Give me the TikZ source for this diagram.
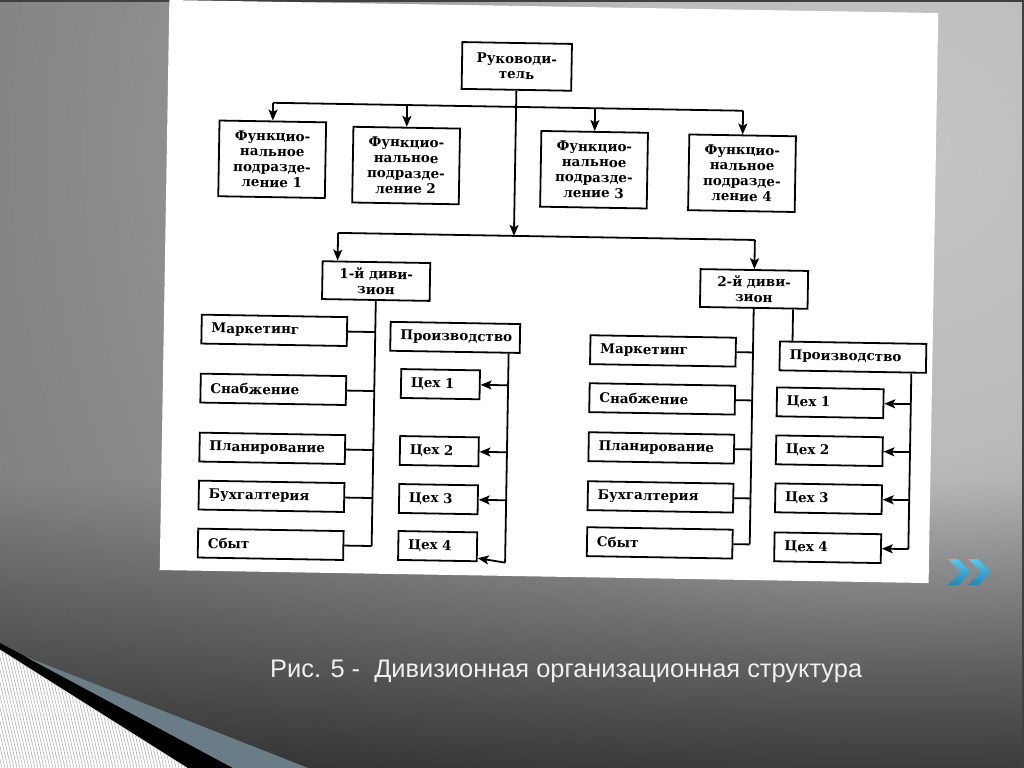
\documentclass[tikz,border=0pt]{standalone}
\usepackage{fontspec}
\setmainfont{DejaVu Serif}
\newfontfamily\capfont{Liberation Sans}
\usetikzlibrary{positioning,arrows.meta,fadings}
\definecolor{glowA}{HTML}{C4C4C4}
\definecolor{glowB}{HTML}{BBBBBB}
\definecolor{glowC}{HTML}{9C9C9C}
\definecolor{glowD}{HTML}{888888}
\definecolor{glowE}{HTML}{787878}
\definecolor{glowF}{HTML}{555555}
\definecolor{glowG}{HTML}{454545}
\definecolor{slate}{HTML}{6A7D86}
\definecolor{chevtop}{HTML}{5CC6EA}
\definecolor{chevbot}{HTML}{1E86B4}
\pgfdeclareradialshading{slideglow}{\pgfpoint{0bp}{0bp}}{%
  color(0bp)=(glowA); color(7.5bp)=(glowB); color(13.5bp)=(glowC);
  color(21bp)=(glowD); color(29bp)=(glowE); color(42.5bp)=(glowF);
  color(50bp)=(glowG)}
\tikzfading[name=lowdark, top color=transparent!100, bottom color=transparent!40]
\tikzset{
  cardbox/.style={draw, line width=1.8, fill=white,
    font=\bfseries\fontsize{13.5}{15.5}\selectfont},
  chief/.style={cardbox, align=center, minimum width=110, minimum height=47, inner sep=2},
  fpbox/.style={cardbox, align=center, minimum width=107, minimum height=76, inner sep=2},
  divbox/.style={cardbox, align=center, minimum width=108, minimum height=38, inner sep=2},
  unitbox/.style={cardbox, align=left, text width=#1, inner xsep=10, inner ysep=2,
    minimum height=29},
  wire/.style={line width=1.8},
  feed/.style={line width=1.8, -{Stealth[length=11, width=9, inset=2.5]}},
}

\begin{document}
\begin{tikzpicture}[x=1bp,y=-1bp]
  \useasboundingbox (0,0) rectangle (1024,768);
  \begin{scope}
    \clip (0,0) rectangle (1024,768);
    \shade[shading=slideglow] (-100,-850) rectangle (1900,1150);
    \fill[black, path fading=lowdark] (0,480) rectangle (1024,768);
  \end{scope}
  \draw[black!75, line width=2] (0,1) -- (1024,1) (1023,0) -- (1023,768);

  % bottom left ribbon
  \fill[black] (0,643) -- (235,768) -- (0,768) -- cycle;
  \fill[slate] (25,656.4) -- (308,768) -- (233,768) -- cycle;
  \begin{scope}
    \clip (0,650) -- (187,768) -- (0,768) -- cycle;
    \fill[white] (0,640) rectangle (200,768);
    \foreach \k in {-40,-37,...,200}
      \draw[gray!70, line width=0.5] (\k,640) -- (\k+30,768);
  \end{scope}
  \draw[white!70!gray, line width=0.8] (0,650) -- (187,768);

  % next-slide chevrons
  \foreach \x in {948,968}
    \shade[top color=chevtop, bottom color=chevbot]
      (\x,559) -- (\x+10,559) -- (\x+22,572) -- (\x+10,585) -- (\x,585) -- (\x+12,572) -- cycle;

  \node[anchor=base west, inner sep=0, text=white!94!black,
    font=\capfont\fontsize{25.5}{30}\selectfont] (cap) at (270,677)
    {Рис. 5 -~ Дивизионная организационная структура};

  \begin{scope}[transform canvas={rotate around={-0.97:(550,290)}}]
    \fill[white] (164.5,6.5) rectangle (933.5,576.6);

    \node[chief] (ruk) at (513,67) {Руководи-\\тель};
    \node[fpbox] (fp1) at (270,164) {Функцио-\\нальное\\подразде-\\ление 1};
    \node[fpbox] (fp2) at (404,168) {Функцио-\\нальное\\подразде-\\ление 2};
    \node[fpbox] (fp3) at (592,169) {Функцио-\\нальное\\подразде-\\ление 3};
    \node[fpbox] (fp4) at (740,170) {Функцио-\\нальное\\подразде-\\ление 4};
    \coordinate (bar1) at (513,107.5);
    \coordinate (bar2) at (513,236.5);
    \draw[wire] (fp1 |- bar1) -- (fp4 |- bar1);
    \foreach \f in {fp1,fp2,fp3,fp4}
      \draw[feed] (\f |- bar1) -- (\f.north);
    \draw[feed] (ruk.south) -- (bar2);

    \node[divbox] (div1) at (376,284) {1-й диви-\\зион};
    \node[divbox] (div2) at (754,285.5) {2-й диви-\\зион};
    \coordinate (d1in) at ([xshift=-39]div1.north);
    \draw[wire] (d1in |- bar2) -- (div2 |- bar2);
    \draw[feed] (d1in |- bar2) -- (d1in);
    \draw[feed] (div2 |- bar2) -- (div2.north);

    \node[unitbox=126] (mk1) at (275,335) {Маркетинг};
    \node[unitbox=126] (sn1) at (275,394) {Снабжение};
    \node[unitbox=126] (pl1) at (275,453) {Планирование};
    \node[unitbox=126] (bu1) at (275,501) {Бухгалтерия};
    \node[unitbox=126] (sb1) at (275,549) {Сбыт};
    \draw[wire] (div1.south) -- (div1.south |- sb1.east);
    \foreach \u in {mk1,sn1,pl1,bu1,sb1}
      \draw[wire] (\u.east) -- (\u.east -| div1.south);

    \node[unitbox=110] (pr1) at (456,339) {Производство};
    \node[unitbox=59] (c11) at (442,386) {Цех 1};
    \node[unitbox=59] (c12) at (442,453) {Цех 2};
    \node[unitbox=59] (c13) at (442,501) {Цех 3};
    \node[unitbox=59] (c14) at (442,548) {Цех 4};
    \coordinate (rb1) at ([xshift=-12]pr1.south east);
    \draw[wire] (rb1) -- (rb1 |- c14.south east);
    \foreach \c in {c11,c12,c13}
      \draw[feed] (rb1 |- \c.east) -- (\c.east);
    \draw[feed] (rb1 |- c14.south east) -- ([yshift=4]c14.south east);

    \node[unitbox=126] (mk2) at (664,349) {Маркетинг};
    \node[unitbox=126] (sn2) at (664,397) {Снабжение};
    \node[unitbox=126] (pl2) at (664,446) {Планирование};
    \node[unitbox=126] (bu2) at (664,495) {Бухгалтерия};
    \node[unitbox=126] (sb2) at (664,541) {Сбыт};
    \draw[wire] (div2.south) -- (div2.south |- sb2.east);
    \foreach \u in {mk2,sn2,pl2,bu2,sb2}
      \draw[wire] (\u.east) -- (\u.east -| div2.south);

    \node[unitbox=127] (pr2) at (854,352) {Производство};
    \node[unitbox=87] (c21) at (832,398) {Цех 1};
    \node[unitbox=87] (c22) at (832,446) {Цех 2};
    \node[unitbox=87] (c23) at (832,494) {Цех 3};
    \node[unitbox=87] (c24) at (832,543) {Цех 4};
    \coordinate (d2out) at ([xshift=39.5]div2.south);
    \draw[wire] (d2out) -- (d2out |- pr2.north);
    \coordinate (rb2) at ([xshift=-15.5]pr2.south east);
    \draw[wire] (rb2) -- (rb2 |- c24.east);
    \foreach \c in {c21,c22,c23,c24}
      \draw[feed] (rb2 |- \c.east) -- (\c.east);
  \end{scope}
\end{tikzpicture}
\end{document}
